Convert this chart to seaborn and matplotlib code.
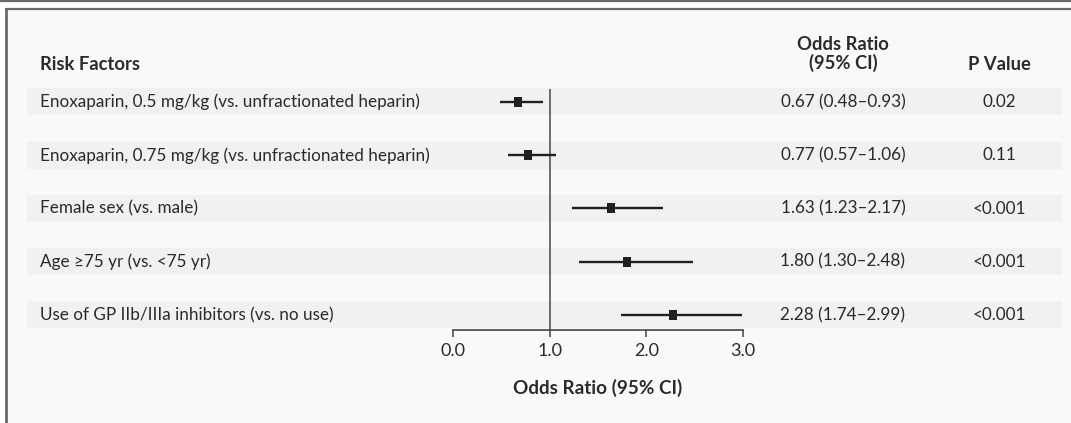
import numpy as np
import matplotlib.pyplot as plt
import seaborn as sns
from matplotlib.markers import MarkerStyle

# Daten aus der Abbildung
risk_factors = [
    "Enoxaparin, 0.5 mg/kg (vs. unfractionated heparin)",
    "Enoxaparin, 0.75 mg/kg (vs. unfractionated heparin)",
    "Female sex (vs. male)",
    "Age \u226575 yr (vs. <75 yr)",
    "Use of GP IIb/IIIa inhibitors (vs. no use)",
]
odds_ratio = [0.67, 0.77, 1.63, 1.80, 2.28]
ci_low = [0.48, 0.57, 1.23, 1.30, 1.74]
ci_high = [0.93, 1.06, 2.17, 2.48, 2.99]
p_values = ["0.02", "0.11", "<0.001", "<0.001", "<0.001"]
x_ticks = [0.0, 1.0, 2.0, 3.0]

sns.set_theme(style="white")
plt.rcParams['font.family'] = ['Lato', 'DejaVu Sans']

TXT = "#2a2a2a"
INK = "#231f20"
W, H = 1071, 423
FS = 12.3      # Tabellentext
FS_B = 13.2    # fette Überschriften

fig = plt.figure(figsize=(W / 100, H / 100), dpi=100)
fig.patch.set_facecolor("white")

# Hintergrund-Achse in Pixelkoordinaten (Rahmen, Bänder, Tabellentext)
bg = fig.add_axes([0, 0, 1, 1])
bg.set_xlim(0, W)
bg.set_ylim(H, 0)
bg.axis("off")

bg.add_patch(plt.Rectangle((6, 9), W - 6, H - 9, facecolor="#f9f9f9",
                           lw=0, zorder=0))
bg.plot([0, W], [1.5, 1.5], color="#6a6a6a", lw=1.6, solid_capstyle="butt")
bg.plot([5, W], [9, 9], color="#6a6a6a", lw=1.6, solid_capstyle="butt")
bg.plot([6, 6], [9, H], color="#6a6a6a", lw=2.0, solid_capstyle="butt")

row_top = 102
row_step = 53.25
n = len(risk_factors)
for i in range(n):
    yc = row_top + row_step * i
    bg.add_patch(plt.Rectangle((27, yc - 13.5), 1062 - 27, 27,
                               facecolor="#f0f1f3", zorder=1, lw=0))
    bg.text(40, yc, risk_factors[i], fontsize=FS, color=TXT,
            va="center", ha="left", zorder=3)
    txt = f"{odds_ratio[i]:.2f} ({ci_low[i]:.2f}\u2013{ci_high[i]:.2f})"
    bg.text(843, yc, txt, fontsize=FS, color=TXT,
            va="center", ha="center", zorder=3)
    bg.text(999, yc, p_values[i], fontsize=FS, color=TXT,
            va="center", ha="center", zorder=3)

bg.text(40, 65, "Risk Factors", fontsize=FS_B, fontweight="bold",
        color=TXT, va="center", ha="left")
bg.text(843, 54, "Odds Ratio\n(95% CI)", fontsize=FS_B, fontweight="bold",
        color=TXT, va="center", ha="center", linespacing=1.0)
bg.text(999, 65, "P Value", fontsize=FS_B, fontweight="bold",
        color=TXT, va="center", ha="center")

# Forest-Plot-Achse
x0_px, x3_px = 453.3, 742.7
top_px, bottom_px = 89, 330
ax = fig.add_axes([x0_px / W, (H - bottom_px) / H,
                   (x3_px - x0_px) / W, (bottom_px - top_px) / H])
ax.patch.set_alpha(0)
y_top = -(row_top - top_px) / row_step
y_bottom = y_top + (bottom_px - top_px) / row_step
ax.set_xlim(0, 3)
ax.set_ylim(y_bottom, y_top)

rows = np.arange(n)
ax.axvline(1.0, color="#555555", lw=1.2, zorder=1)
ax.hlines(rows, ci_low, ci_high, color=INK, lw=1.7, zorder=2)
rect = MarkerStyle([(-0.35, -0.5), (0.35, -0.5), (0.35, 0.5),
                    (-0.35, 0.5), (-0.35, -0.5)])
sns.scatterplot(x=odds_ratio, y=rows, marker=rect, s=58, color=INK,
                edgecolor=INK, linewidth=0, zorder=3, ax=ax)

for side in ["top", "right", "left"]:
    ax.spines[side].set_visible(False)
ax.spines["bottom"].set_color("#444444")
ax.spines["bottom"].set_linewidth(1.2)
ax.set_yticks([])
ax.set_xticks(x_ticks)
ax.set_xticklabels([f"{t:.1f}" for t in x_ticks])
ax.tick_params(axis="x", direction="out", length=5, width=1.1,
               color="#444444", labelsize=13, labelcolor=TXT, pad=4,
               bottom=True)
ax.set_xlabel("Odds Ratio (95% CI)", fontsize=13.6, fontweight="bold",
              color=TXT, labelpad=15)

fig.savefig("out.png", dpi=100)
